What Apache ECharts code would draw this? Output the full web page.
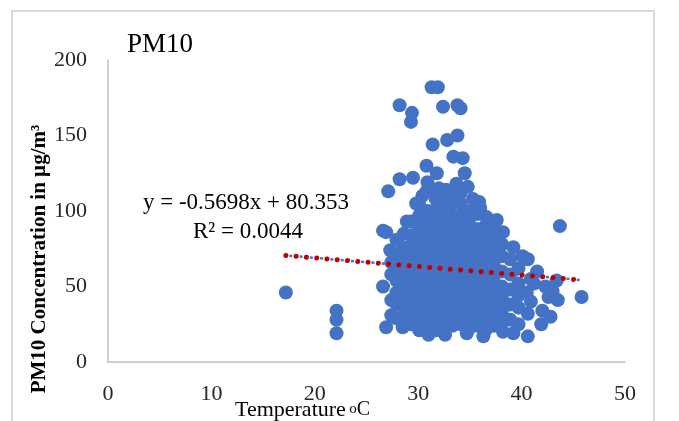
<!DOCTYPE html>
<html>
<head>
<meta charset="utf-8">
<script src="https://cdn.jsdelivr.net/npm/echarts@6/dist/echarts.min.js"></script>
<style>html,body{margin:0;padding:0;background:#fff}#c{width:679px;height:421px}</style>
</head>
<body>
<div id="c"></div>
<script>
// ---- data ----
const tempC = [
  17.2,
  22.1, 22.1, 22.1,
  28.2, 29.4, 29.3,
  31.3, 31.9,
  32.4, 33.8, 34.1,
  33.8, 32.8, 31.4, 34.3, 33.4, 30.8, 31.8, 34.5,
  28.2, 29.5, 30.9, 33.7, 27.1, 30.8, 32.7, 29.8, 35.3, 33.2, 36.0,
  28.9, 26.6, 36.6,
  43.7, 45.8, 43.4, 43.5, 42.6, 42.0, 41.9, 40.6, 40.6, 40.5, 40.6, 40.1, 39.2, 38.2, 39.2, 38.2, 36.3, 34.7, 32.6, 31.0, 26.9, 28.5, 26.9, 27.3, 26.6,
  41.5, 42.3, 43.0, 41.2, 42.8,
  27.4, 27.4, 27.4, 27.4,
  27.9, 27.9, 27.9, 27.9, 27.9, 27.9, 27.9,
  28.6, 28.6, 28.6, 28.6, 28.6, 28.6, 28.6, 28.6,
  29.3, 29.3, 29.3, 29.3, 29.3, 29.3, 29.3, 29.3, 29.3, 29.3,
  30.1, 30.1, 30.1, 30.1, 30.1, 30.1, 30.1, 30.1, 30.1, 30.1, 30.1, 30.1,
  30.9, 30.9, 30.9, 30.9, 30.9, 30.9, 30.9, 30.9, 30.9, 30.9, 30.9,
  31.7, 31.7, 31.7, 31.7, 31.7, 31.7, 31.7, 31.7, 31.7, 31.7, 31.7, 31.7,
  32.5, 32.5, 32.5, 32.5, 32.5, 32.5, 32.5, 32.5, 32.5, 32.5, 32.5,
  33.3, 33.3, 33.3, 33.3, 33.3, 33.3, 33.3, 33.3, 33.3, 33.3, 33.3,
  34.1, 34.1, 34.1, 34.1, 34.1, 34.1, 34.1, 34.1, 34.1, 34.1, 34.1, 34.1,
  34.9, 34.9, 34.9, 34.9, 34.9, 34.9, 34.9, 34.9, 34.9, 34.9, 34.9,
  35.7, 35.7, 35.7, 35.7, 35.7, 35.7, 35.7, 35.7, 35.7, 35.7,
  36.5, 36.5, 36.5, 36.5, 36.5, 36.5, 36.5, 36.5, 36.5, 36.5,
  37.3, 37.3, 37.3, 37.3, 37.3, 37.3, 37.3, 37.3, 37.3,
  38.1, 38.1, 38.1, 38.1, 38.1, 38.1, 38.1,
  38.9, 38.9, 38.9, 38.9, 38.9,
  39.7, 39.7, 39.7, 39.7, 39.7,
  40.9, 40.9,
  32.0, 34.8, 37.6, 35.9, 30.4
];
const pm10 = [
  46,
  34, 28, 19,
  170, 165, 159,
  182, 182,
  169, 170, 168,
  150, 147, 144, 135, 136, 130, 125, 125,
  121, 122, 119, 118, 113, 113, 114, 105, 108, 104, 102,
  93, 87, 96,
  90, 43, 54, 41, 43, 34, 25, 32, 17, 46, 68, 70, 76, 86, 19, 20, 17, 19, 18, 18, 23, 23, 86, 74, 50,
  60, 50, 47, 52, 30,
  66, 58, 41, 31,
  81, 70, 62, 54, 46, 38, 29,
  85, 76, 68, 60, 52, 44, 36, 28,
  93, 84, 77, 70, 62, 55, 47, 40, 33, 25,
  104, 97, 90, 82, 74, 66, 59, 51, 43, 35, 27, 21,
  100, 93, 86, 78, 70, 62, 55, 47, 39, 31, 24,
  108, 101, 93, 85, 77, 69, 61, 53, 45, 37, 29, 21,
  106, 99, 91, 83, 75, 67, 59, 51, 43, 35, 27,
  110, 96, 88, 80, 72, 64, 56, 48, 40, 32, 24,
  112, 105, 97, 89, 81, 73, 65, 57, 49, 41, 33, 25,
  100, 92, 84, 76, 68, 60, 52, 44, 36, 28, 22,
  98, 88, 80, 72, 64, 56, 48, 40, 32, 24,
  90, 84, 76, 68, 60, 52, 44, 36, 28, 21,
  88, 80, 72, 64, 56, 48, 40, 32, 24,
  78, 70, 60, 50, 42, 34, 27,
  68, 58, 48, 38, 28,
  62, 52, 44, 36, 25,
  55, 40,
  115, 116, 94, 106, 110
];
const xTicks = [0, 10, 20, 30, 40, 50];
const yTicks = [0, 50, 100, 150, 200];
const trendSlope = -0.5698;
const trendIntercept = 80.353;
const chartTitle = 'PM10';
const eqText = 'y = -0.5698x + 80.353';
const r2Text = 'R\u00B2 = 0.0044';
const yName = 'PM10 Concentration in \u00B5g/m\u00B3';

// ---- build ----
const points = tempC.map((t, i) => [t, pm10[i]]);
const tMin = Math.min(...tempC), tMax = Math.max(...tempC);
const trend = [[tMin, trendSlope * tMin + trendIntercept], [tMax, trendSlope * tMax + trendIntercept]];
const serif = '"Liberation Serif", "Times New Roman", serif';

const chart = echarts.init(document.getElementById('c'), null, {renderer: 'canvas'});
chart.setOption({
  animation: false,
  backgroundColor: '#fff',
  grid: {left: 108, right: 54, top: 60, bottom: 59, containLabel: false},
  xAxis: {
    type: 'value', min: xTicks[0], max: xTicks[xTicks.length - 1], interval: 10,
    axisLine: {show: true, onZero: false, lineStyle: {color: '#BFBFBF', width: 1.5}},
    axisTick: {show: false}, splitLine: {show: false},
    axisLabel: {margin: 21, fontFamily: serif, fontSize: 22, color: '#262626'}
  },
  yAxis: {
    type: 'value', min: yTicks[0], max: yTicks[yTicks.length - 1], interval: 50,
    axisLine: {show: true, onZero: false, lineStyle: {color: '#BFBFBF', width: 1.5}},
    axisTick: {show: false}, splitLine: {show: false},
    axisLabel: {margin: 21, fontFamily: serif, fontSize: 22, color: '#262626'}
  },
  series: [
    {
      type: 'scatter', data: points, symbolSize: 14,
      itemStyle: {color: '#4472C4', opacity: 1}, z: 2
    },
    {
      type: 'line', data: trend, symbol: 'none', z: 3,
      lineStyle: {color: '#4472C4', width: 2.5, type: [3, 7.3], dashOffset: -3.5}
    },
    {
      type: 'line', data: trend, symbol: 'none', z: 4,
      lineStyle: {color: '#C00000', width: 5, type: [0.01, 10.3], cap: 'round'}
    }
  ],
  graphic: [
    {type: 'rect', shape: {x: 12, y: 11, width: 642, height: 430}, style: {fill: 'none', stroke: '#D9D9D9', lineWidth: 2}, z: 0, silent: true},
    {type: 'text', left: 127, top: 31, style: {text: chartTitle, font: '27px ' + serif, fill: '#000'}},
    {type: 'text', x: 246, y: 203, style: {text: eqText, font: '23px ' + serif, fill: '#000', align: 'center', verticalAlign: 'middle'}},
    {type: 'text', x: 248, y: 232, style: {text: r2Text, font: '23px ' + serif, fill: '#000', align: 'center', verticalAlign: 'middle'}},
    {type: 'text', x: 40, y: 259, rotation: Math.PI / 2,
      style: {text: yName, font: 'bold 21px ' + serif, fill: '#000', align: 'center', verticalAlign: 'middle'}},
    {type: 'text', x: 235, y: 410,
      style: {text: '{a|Temperature} {o|o}{c|C}', align: 'left', verticalAlign: 'middle',
        rich: {
          a: {fontFamily: serif, fontSize: 22, fill: '#000', color: '#000'},
          o: {fontFamily: serif, fontSize: 15, color: '#000', fill: '#000', padding: [0, 0, 2, 0]},
          c: {fontFamily: serif, fontSize: 20, color: '#000', fill: '#000'}
        }}}
  ]
});
</script>
</body>
</html>
